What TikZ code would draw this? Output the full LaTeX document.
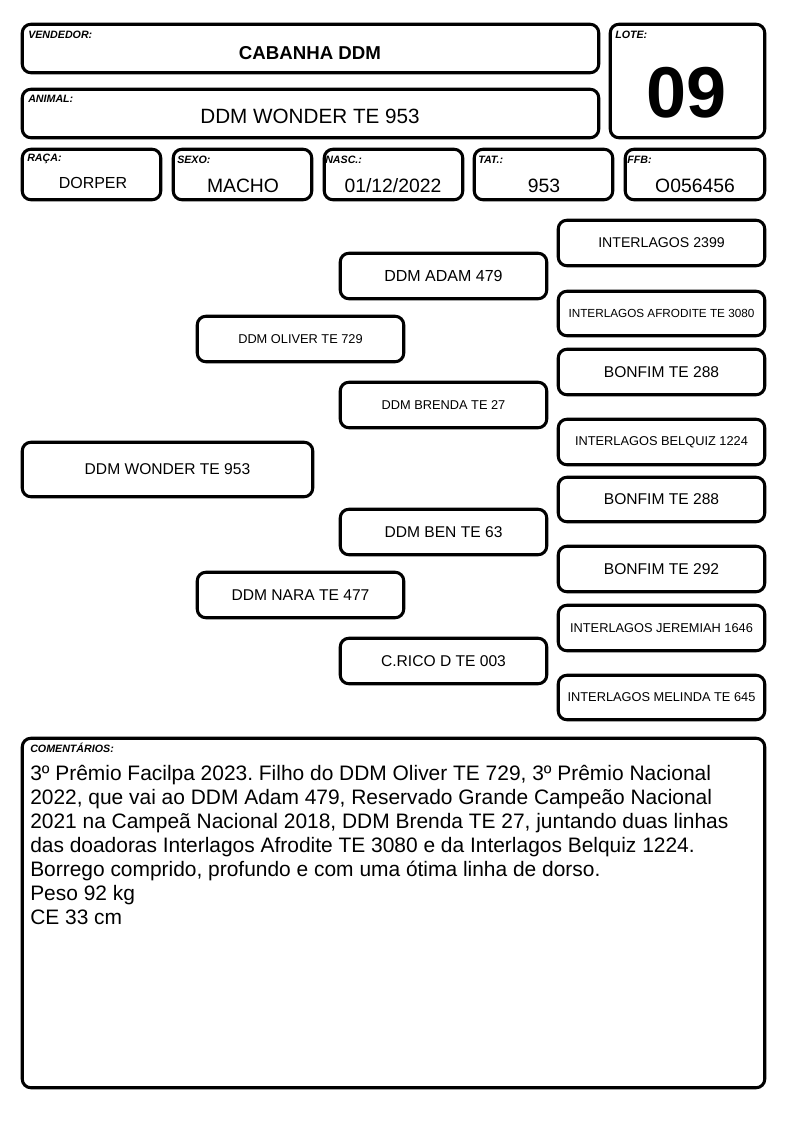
\documentclass[tikz,border=0pt]{standalone}
\usepackage{fontspec}
\setmainfont{Liberation Sans}
\frenchspacing
\tikzset{
  box/.style={draw=black, line width=2.3pt, rounded corners=6.5pt, inner sep=0pt, fill=white},
  lbl/.style={anchor=base west, inner sep=0pt, font=\fontsize{8}{9}\selectfont\bfseries\itshape},
  val/.style={inner sep=0pt, font=\fontsize{14.5}{16}\selectfont},
  ped/.style={inner sep=0pt, font=\fontsize{11.7}{13}\selectfont},
  peds/.style={inner sep=0pt, font=\fontsize{9.6}{11}\selectfont},
}
\newcommand\rbox[6][]{\node[box, minimum width={(#4-#2-2.5)*0.75pt}, minimum height={(#5-#3-2.5)*0.75pt}, #1] (#6) at ({(#2+#4)/2},{(#3+#5)/2}) {};}
\begin{document}
\begin{tikzpicture}[x=0.75pt, y=-0.75pt]
\useasboundingbox[fill=white] (0,0) rectangle (794,1123);
% header boxes
\rbox{21}{23}{600}{74}{vend}
\rbox{21}{88}{600}{139}{anim}
\rbox{609}{23}{766}{139}{lote}
\rbox{21}{148}{162}{201}{raca}
\rbox{172}{148}{313}{201}{sexo}
\rbox{323}{148}{464}{201}{nasc}
\rbox{473}{148}{614}{201}{tat}
\rbox{624}{148}{766}{201}{ffb}
\node[lbl] (lvend) at (28,39) {VENDEDOR:};
\node[lbl] (lanim) at (28,103) {ANIMAL:};
\node[lbl] (llote) at (615,39) {LOTE:};
\node[lbl] (lraca) at (27,162) {RAÇA:};
\node[lbl] (lsexo) at (177,164) {SEXO:};
\node[lbl] (lnasc) at (325,164) {NASC.:};
\node[lbl] (ltat) at (478,164) {TAT.:};
\node[lbl] (lffb) at (627,164) {FFB:};
\node[inner sep=0pt, font=\fontsize{14}{16}\selectfont\bfseries] (tvend) at (310,53) {CABANHA DDM};
\node[inner sep=0pt, font=\fontsize{15.5}{17}\selectfont] (tanim) at (310,116) {DDM WONDER TE 953};
\node[inner sep=0pt, font=\fontsize{54}{60}\selectfont\bfseries] (tlote) at (687,93) {09};
\node[inner sep=0pt, font=\fontsize{12}{14}\selectfont] (traca) at (93,182.5) {DORPER};
\node[val] (tsexo) at (243,186) {MACHO};
\node[val] (tnasc) at (393,186) {01/12/2022};
\node[val] (ttat) at (544,186) {953};
\node[val] (tffb) at (695,186) {O056456};
% pedigree
\rbox{21}{441}{314}{498}{w}
\node[ped] at (w) {DDM WONDER TE 953};
\rbox{196}{315}{405}{363}{oliver}
\node[peds] at (oliver) {DDM OLIVER TE 729};
\rbox{196}{571}{405}{619}{nara}
\node[ped] at (nara) {DDM NARA TE 477};
\rbox{339}{252}{548}{300}{adam}
\node[inner sep=0pt, font=\fontsize{12}{14}\selectfont] at (adam) {DDM ADAM 479};
\rbox{339}{381}{548}{429}{brenda}
\node[peds] at (brenda) {DDM BRENDA TE 27};
\rbox{339}{508}{548}{556}{ben}
\node[ped] at (ben) {DDM BEN TE 63};
\rbox{339}{637}{548}{685}{crico}
\node[ped] at (crico) {C.RICO D TE 003};
\rbox{557}{219}{766}{267}{g1}
\node[inner sep=0pt, font=\fontsize{10.6}{12}\selectfont] at (g1) {INTERLAGOS 2399};
\rbox{557}{290}{766}{337}{g2}
\node[inner sep=0pt, font=\fontsize{8.8}{10}\selectfont] at (g2) {INTERLAGOS AFRODITE TE 3080};
\rbox{557}{348}{766}{396}{g3}
\node[ped] at (g3) {BONFIM TE 288};
\rbox{557}{418}{766}{466}{g4}
\node[peds] at (g4) {INTERLAGOS BELQUIZ 1224};
\rbox{557}{476}{766}{523}{g5}
\node[ped] at (g5) {BONFIM TE 288};
\rbox{557}{545}{766}{593}{g6}
\node[ped] at (g6) {BONFIM TE 292};
\rbox{557}{604}{766}{652}{g7}
\node[peds] at (g7) {INTERLAGOS JEREMIAH 1646};
\rbox{557}{674}{766}{721}{g8}
\node[peds] at (g8) {INTERLAGOS MELINDA TE 645};
% comments
\rbox{21}{737}{766}{1089}{com}
\node[lbl] (lcom) at (30,752) {COMENTÁRIOS:};
\node[anchor=north west, inner sep=0pt, align=left, font=\fontsize{15.7}{18}\selectfont] (tcom) at (30,765) {3º Prêmio Facilpa 2023. Filho do DDM Oliver TE 729, 3º Prêmio Nacional\\
2022, que vai ao DDM Adam 479, Reservado Grande Campeão Nacional\\
2021 na Campeã Nacional 2018, DDM Brenda TE 27, juntando duas linhas\\
das doadoras Interlagos Afrodite TE 3080 e da Interlagos Belquiz 1224.\\
Borrego comprido, profundo e com uma ótima linha de dorso.\\
Peso 92 kg\\
CE 33 cm};
\end{tikzpicture}
\end{document}
